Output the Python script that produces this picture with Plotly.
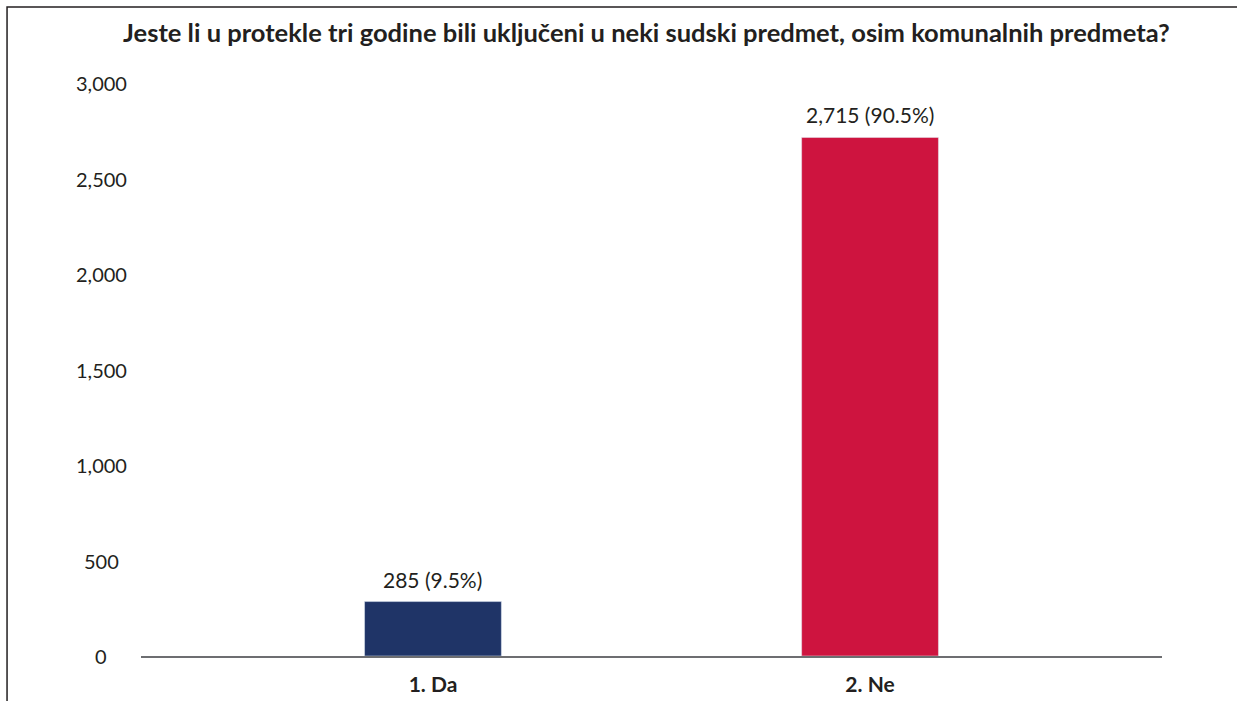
import plotly.graph_objects as go

# Podaci
categories = ["1. Da", "2. Ne"]
counts = [285, 2715]
colors = ["#1F3467", "#CE143F"]
y_ticks = [0, 500, 1000, 1500, 2000, 2500, 3000]

title = "Jeste li u protekle tri godine bili uključeni u neki sudski predmet, osim komunalnih predmeta?"

total = sum(counts)
labels = [f"{c:,} ({c / total * 100:.1f}%)" for c in counts]

FONT = "Lato, 'Open Sans', sans-serif"
INK = "#231F20"

fig = go.Figure(go.Bar(
    x=categories,
    y=counts,
    marker_color=colors,
    width=0.313,
    hoverinfo="x+y",
))

# value labels above bars
for cat, c, lab in zip(categories, counts, labels):
    fig.add_annotation(
        x=cat, y=c, text=lab, showarrow=False,
        xanchor="center", yanchor="bottom", yshift=8,
        font=dict(size=21, color=INK, family=FONT),
    )

# y tick labels, centred like the original
for t in y_ticks:
    fig.add_annotation(
        x=-0.039, xref="paper", y=t, yref="y",
        text=f"{t:,}", showarrow=False,
        xanchor="center", yanchor="middle",
        font=dict(size=20, color=INK, family=FONT),
    )

# outer frame (only left and top edges visible)
fig.add_shape(
    type="rect", xref="paper", yref="paper",
    x0=-0.1312, x1=1.2, y0=-0.3, y1=1.1326,
    line=dict(color=INK, width=1.5),
)

fig.update_layout(
    width=1237,
    height=701,
    margin=dict(l=141, r=75, t=83, b=45, autoexpand=False),
    paper_bgcolor="white",
    plot_bgcolor="white",
    showlegend=False,
    title=dict(
        text=f"<b>{title}</b>",
        x=0.495, xref="paper", xanchor="center",
        y=0.953, yref="container", yanchor="middle",
        font=dict(size=25.5, color=INK, family=FONT),
    ),
    xaxis=dict(
        range=[-0.668, 1.668],
        showline=True, linecolor="#6D6E71", linewidth=2,
        showgrid=False, zeroline=False, ticks="",
        tickfont=dict(size=21, color=INK, family=FONT),
        ticklabelstandoff=9,
        automargin=False,
        tickprefix="<b>", ticksuffix="</b>",
    ),
    yaxis=dict(
        range=[0, 3000],
        showgrid=False, zeroline=False, showline=False,
        showticklabels=False, automargin=False,
    ),
)

fig.write_html(
    "out.html",
    config={"displayModeBar": False},
    post_script="document.body.style.margin='0';document.body.style.overflow='hidden';",
)
